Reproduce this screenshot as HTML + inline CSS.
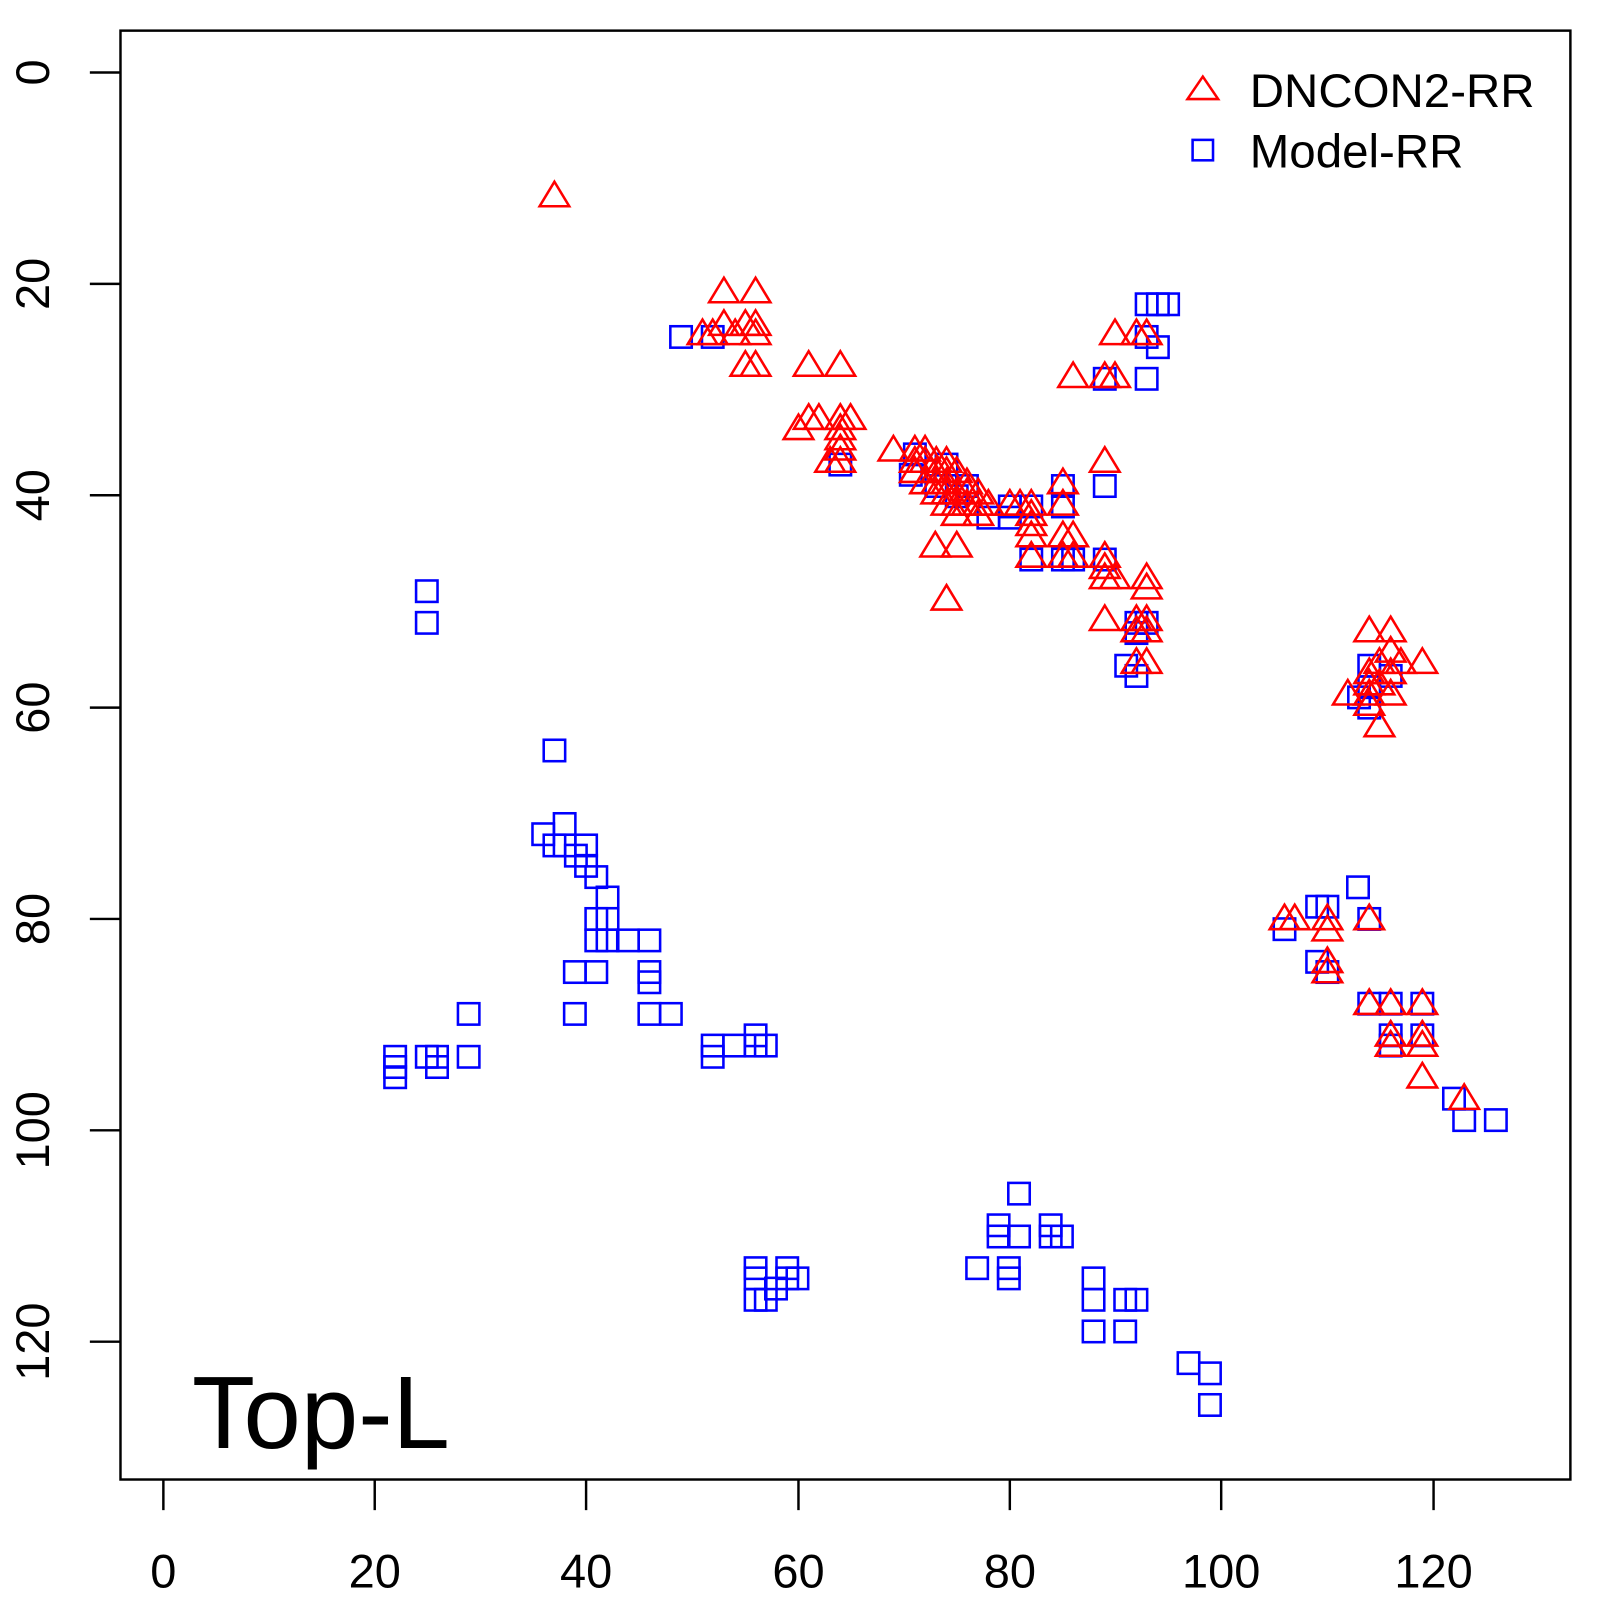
<!DOCTYPE html>
<html><head><meta charset="utf-8"><style>html,body{margin:0;padding:0;background:#fff}svg{display:block}</style></head>
<body>
<svg id="s" xmlns="http://www.w3.org/2000/svg" width="1600" height="1600" viewBox="0 0 1567 1567" font-family="Liberation Sans, sans-serif">
<rect width="1567" height="1567" fill="#fff"/>
<g id="pts"></g>
<rect x="118" y="30" width="1420" height="1419" fill="none" stroke="#000" stroke-width="2.4"/>
<g stroke="#000" stroke-width="2.4">
<line x1="160" y1="1449" x2="160" y2="1479"/><line x1="367" y1="1449" x2="367" y2="1479"/><line x1="574" y1="1449" x2="574" y2="1479"/><line x1="782" y1="1449" x2="782" y2="1479"/><line x1="989" y1="1449" x2="989" y2="1479"/><line x1="1196" y1="1449" x2="1196" y2="1479"/><line x1="1404" y1="1449" x2="1404" y2="1479"/>
<line x1="88" y1="71" x2="118" y2="71"/><line x1="88" y1="278" x2="118" y2="278"/><line x1="88" y1="485" x2="118" y2="485"/><line x1="88" y1="693" x2="118" y2="693"/><line x1="88" y1="900" x2="118" y2="900"/><line x1="88" y1="1107" x2="118" y2="1107"/><line x1="88" y1="1314" x2="118" y2="1314"/>
</g>
<g font-size="46" text-anchor="middle" fill="#000">
<text x="160" y="1555">0</text><text x="367" y="1555">20</text><text x="574" y="1555">40</text><text x="782" y="1555">60</text><text x="989" y="1555">80</text><text x="1196" y="1555">100</text><text x="1404" y="1555">120</text>
<text transform="translate(48,71) rotate(-90)">0</text><text transform="translate(48,278) rotate(-90)">20</text><text transform="translate(48,485) rotate(-90)">40</text><text transform="translate(48,693) rotate(-90)">60</text><text transform="translate(48,900) rotate(-90)">80</text><text transform="translate(48,1107) rotate(-90)">100</text><text transform="translate(48,1314) rotate(-90)">120</text>
</g>
<text x="188" y="1418" font-size="101" fill="#000">Top-L</text>
<polygon points="1178,75 1193,97 1163,97" fill="none" stroke="#f00" stroke-width="2.5"/>
<rect x="1168" y="137" width="20" height="20" fill="none" stroke="#00f" stroke-width="2.5"/>
<text x="1224" y="105" font-size="46.5">DNCON2-RR</text>
<text x="1224" y="164" font-size="46.5">Model-RR</text>
</svg>
<script>
var T=[[543,192],[709,286],[740,286],[688,327],[709,318],[730,318],[740,318],[698,327],[720,327],[740,327],[730,358],[740,358],[792,358],[823,358],[782,420],[792,410],[802,410],[823,410],[833,410],[823,420],[823,430],[823,440],[813,452],[823,452],[875,441],[896,441],[906,441],[896,452],[906,452],[917,452],[927,452],[896,462],[917,462],[927,462],[937,462],[906,473],[917,473],[927,473],[947,473],[917,483],[927,483],[937,483],[947,483],[958,483],[927,494],[937,494],[947,494],[958,494],[968,494],[937,504],[958,504],[989,494],[999,494],[1010,494],[1010,504],[1010,514],[1010,525],[1010,545],[1041,473],[1041,494],[1041,525],[1051,525],[1041,545],[1051,545],[916,535],[937,535],[927,587],[1051,369],[1082,369],[1092,369],[1092,327],[1113,327],[1123,327],[1082,452],[1082,545],[1082,556],[1082,566],[1092,566],[1082,607],[1123,566],[1123,576],[1113,607],[1123,607],[1113,618],[1123,618],[1113,649],[1123,649],[1341,618],[1362,618],[1362,638],[1372,649],[1393,649],[1351,649],[1341,659],[1362,659],[1320,680],[1341,680],[1362,680],[1351,711],[1258,900],[1268,900],[1300,900],[1341,900],[1300,911],[1300,942],[1300,952],[1341,983],[1362,983],[1393,983],[1362,1014],[1393,1014],[1362,1024],[1393,1024],[1393,1055],[1434,1076],[1341,670],[1351,670],[1341,690]];
var S=[[667,330],[698,330],[1123,298],[1134,298],[1144,298],[1123,330],[1134,340],[1082,371],[1123,371],[823,455],[896,445],[927,455],[892,465],[917,476],[947,476],[937,486],[968,507],[989,496],[1010,496],[989,507],[1010,548],[1041,476],[1041,496],[1041,548],[1051,548],[1082,548],[1082,476],[1113,610],[1123,610],[1113,620],[1103,652],[1113,662],[1341,652],[1341,673],[1362,662],[1331,683],[1341,693],[418,579],[418,610],[543,735],[532,817],[553,807],[543,828],[553,828],[574,828],[564,838],[574,848],[584,859],[595,879],[584,900],[595,900],[584,921],[595,921],[615,921],[636,921],[563,952],[584,952],[636,952],[636,962],[563,993],[636,993],[657,993],[387,1035],[387,1045],[387,1055],[418,1035],[428,1035],[428,1045],[459,993],[459,1035],[698,1024],[698,1035],[719,1024],[740,1024],[740,1014],[750,1024],[740,1242],[740,1252],[740,1273],[750,1273],[760,1262],[771,1242],[771,1252],[781,1252],[998,1169],[978,1200],[978,1211],[998,1211],[1029,1200],[1029,1211],[1040,1211],[957,1242],[988,1242],[988,1252],[1071,1252],[1071,1273],[1102,1273],[1113,1273],[1071,1304],[1102,1304],[1164,1335],[1185,1345],[1185,1376],[1258,910],[1290,888],[1300,888],[1330,869],[1341,900],[1290,942],[1300,952],[1341,983],[1362,983],[1393,983],[1362,1014],[1393,1014],[1362,1024],[1424,1076],[1434,1097],[1465,1097]];
var h='';
S.forEach(function(p){h+='<rect x="'+(p[0]-10.5)+'" y="'+(p[1]-10.5)+'" width="21" height="21" fill="none" stroke="#00f" stroke-width="2.5"/>';});
T.forEach(function(p){var x=p[0],y=p[1];h+='<polygon points="'+x+','+(y-14)+' '+(x+14.5)+','+(y+10)+' '+(x-14.5)+','+(y+10)+'" fill="none" stroke="#f00" stroke-width="2.5"/>';});
document.getElementById('pts').innerHTML=h;
</script>
</body></html>
